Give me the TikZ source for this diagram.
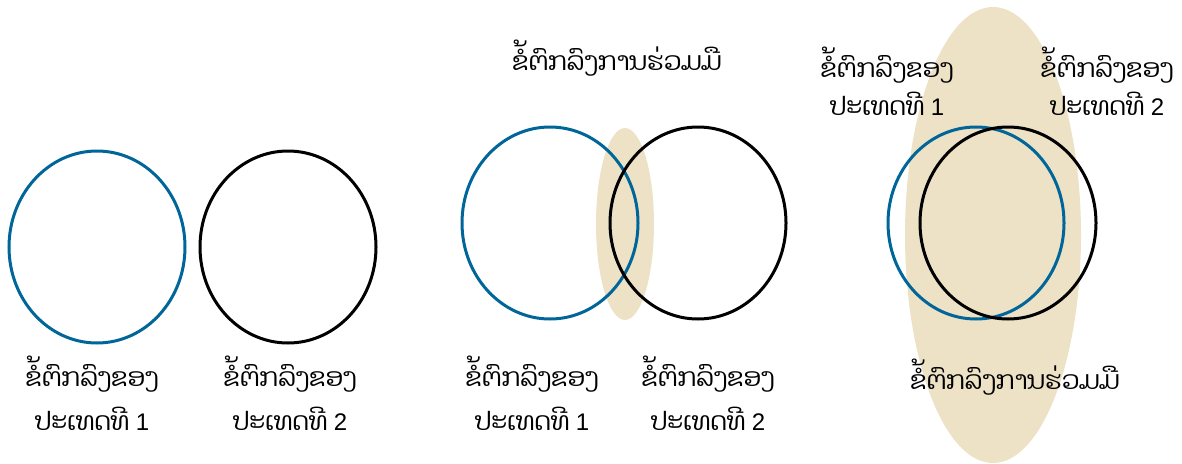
\documentclass[tikz,border=0pt]{standalone}
\usepackage{fontspec}
\usepackage{tikz}
\usetikzlibrary{shapes.geometric}
\newfontfamily\laofont[Script=Lao]{Dhyana}
\newfontfamily\numfont{Liberation Sans}
\definecolor{TreatyBlue}{RGB}{0,102,153}
\definecolor{JointBg}{RGB}{237,226,198}
\newcommand{\nr}[1]{{\numfont\fontsize{24}{24}\selectfont #1}}

\tikzset{
  ring/.style={ellipse,draw,line width=3pt,minimum width=176pt,minimum height=192pt,inner sep=0pt},
  blob/.style={ellipse,fill=JointBg,inner sep=0pt},
  lbl/.style={font=\laofont\fontsize{25.5}{44}\selectfont,align=center,inner sep=0pt}
}

\begin{document}
\begin{tikzpicture}[x=1pt,y=-1pt]
  \useasboundingbox (0,0) rectangle (1182,463);
  % panel 1
  \node[ring,draw=TreatyBlue] (a1) at (97,247) {};
  \node[ring,draw=black] (b1) at (288,247) {};
  \node[lbl] (la1) at (92,393) {ຂໍ້ຕົກລົງຂອງ\\ປະເທດທີ \nr{1}};
  \node[lbl] (lb1) at (290,393) {ຂໍ້ຕົກລົງຂອງ\\ປະເທດທີ \nr{2}};
  % panel 2
  \node[blob,minimum width=58pt,minimum height=192pt] (j2) at (625,224) {};
  \node[ring,draw=TreatyBlue] (a2) at (550,223) {};
  \node[ring,draw=black] (b2) at (698,223) {};
  \node[lbl] (t2) at (617,58) {ຂໍ້ຕົກລົງການຮ່ວມມື};
  \node[lbl] (la2) at (532,393) {ຂໍ້ຕົກລົງຂອງ\\ປະເທດທີ \nr{1}};
  \node[lbl] (lb2) at (708,393) {ຂໍ້ຕົກລົງຂອງ\\ປະເທດທີ \nr{2}};
  % panel 3
  \node[blob,minimum width=176pt,minimum height=456pt] (j3) at (993,235) {};
  \node[ring,draw=TreatyBlue] (a3) at (976,223) {};
  \node[ring,draw=black] (b3) at (1008,223) {};
  \node[lbl,font=\laofont\fontsize{25.5}{38}\selectfont] (la3) at (887,81) {ຂໍ້ຕົກລົງຂອງ\\ປະເທດທີ \nr{1}};
  \node[lbl,font=\laofont\fontsize{25.5}{38}\selectfont] (lb3) at (1107,81) {ຂໍ້ຕົກລົງຂອງ\\ປະເທດທີ \nr{2}};
  \node[lbl] (t3) at (1015,377) {ຂໍ້ຕົກລົງການຮ່ວມມື};
\end{tikzpicture}
\end{document}
